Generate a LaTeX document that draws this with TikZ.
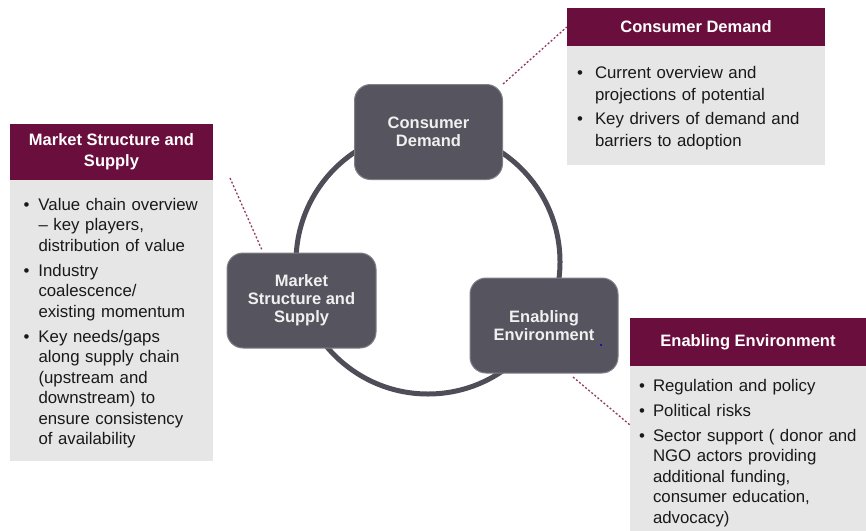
\documentclass[tikz,border=0pt]{standalone}
\usepackage{fontspec}
\setmainfont{Liberation Sans}
\usepackage{tikz}
\usetikzlibrary{positioning}
\definecolor{wine}{HTML}{6A0F3D}
\definecolor{slate}{HTML}{56555F}
\definecolor{ringgray}{HTML}{4F4E58}
\definecolor{panelgray}{HTML}{E6E6E6}
\definecolor{linkpink}{HTML}{8E3A64}
\newlength{\bulind}
\newlength{\bulgap}
\newlength{\panelpad}
\setlength{\panelpad}{8pt}
\newcommand{\bul}[1]{\par\parskip=\bulgap\hangindent=\bulind\hangafter=1\noindent\makebox[\bulind][l]{\textbullet}#1\par}
\newcommand{\panelend}{\par\kern\panelpad}
\tikzstyle{pillar} = [rectangle, rounded corners=16pt, minimum width=148pt, minimum height=95pt, fill=slate, draw=slate!75!white, line width=1pt, text=white!94!black, font=\bfseries\fontsize{16.5}{18}\selectfont, align=center]
\tikzstyle{head} = [rectangle, inner sep=0pt, fill=wine, text=white, font=\bfseries\fontsize{16.5}{21}\selectfont, align=center]
\tikzstyle{panel} = [rectangle, fill=panelgray, text=black!90, align=left, execute at end node=\panelend]
\tikzstyle{ring} = [line width=5pt, draw=ringgray]
\tikzstyle{link} = [dash pattern=on 2pt off 2pt, line width=1.3pt, draw=linkpink]

\begin{document}
\begin{tikzpicture}[x=1pt, y=-1pt]
	\useasboundingbox (0,0) rectangle (866,530);
	\draw [ring] (428,262) circle [radius=132pt];

	\node (demand) [pillar] at (428.5,132) {Consumer\\Demand};
	\node (market) [pillar, minimum width=149pt] at (301.5,300.5) {Market\\Structure and\\Supply};
	\node (enabling) [pillar] at (544,325.5) {Enabling\\Environment};
	\fill [blue!80!black] (601,345) circle [radius=1.2pt];

	\node (cdhead) [head, minimum width=258pt, minimum height=38pt] at (696,27) {Consumer Demand};
	\node (cdbody) [panel, below=0pt of cdhead, text width=238pt, inner xsep=10pt, minimum height=119pt, font={\fontsize{16.8}{22}\selectfont\setlength{\bulind}{18pt}\setlength{\bulgap}{2pt}}] {%
		\bul{Current overview and\newline projections of potential}
		\bul{Key drivers of demand and\newline barriers to adoption}};

	\node (mshead) [head, minimum width=203pt, minimum height=56pt] at (111.5,152) {Market Structure and\\Supply};
	\node (msbody) [panel, below=0pt of mshead, text width=176pt, inner xsep=13.5pt, minimum height=281pt, font={\fontsize{16.8}{20.5}\selectfont\setlength{\bulind}{15pt}\setlength{\bulgap}{4.5pt}}] {%
		\bul{Value chain overview\newline – key players,\newline distribution of value}
		\bul{Industry\newline coalescence/\newline existing momentum}
		\bul{Key needs/gaps\newline along supply chain\newline (upstream and\newline downstream) to\newline ensure consistency\newline of availability}};

	\node (eehead) [head, minimum width=236pt, minimum height=48pt] at (748,342) {Enabling Environment};
	\node (eebody) [panel, below=0pt of eehead, text width=218pt, inner xsep=9pt, inner ysep=0pt, minimum height=164pt, font={\fontsize{16.8}{20.5}\selectfont\setlength{\bulind}{14pt}\setlength{\bulgap}{4.5pt}\setlength{\panelpad}{12pt}}] {%
		\bul{Regulation and policy}
		\bul{Political risks}
		\bul{Sector support ( donor and\newline NGO actors providing\newline additional funding,\newline consumer education,\newline advocacy)}};

	% dotted callouts
	\coordinate (msa) at (230,178);
	\coordinate (msb) at (262,250);
	\coordinate (eea) at (573,377);
	\coordinate (eeb) at (630,425);
	\draw [link] (demand.north east) -- (cdhead.west);
	\draw [link] (msa) -- (msb);
	\draw [link] (eea) -- (eeb);
\end{tikzpicture}
\end{document}
